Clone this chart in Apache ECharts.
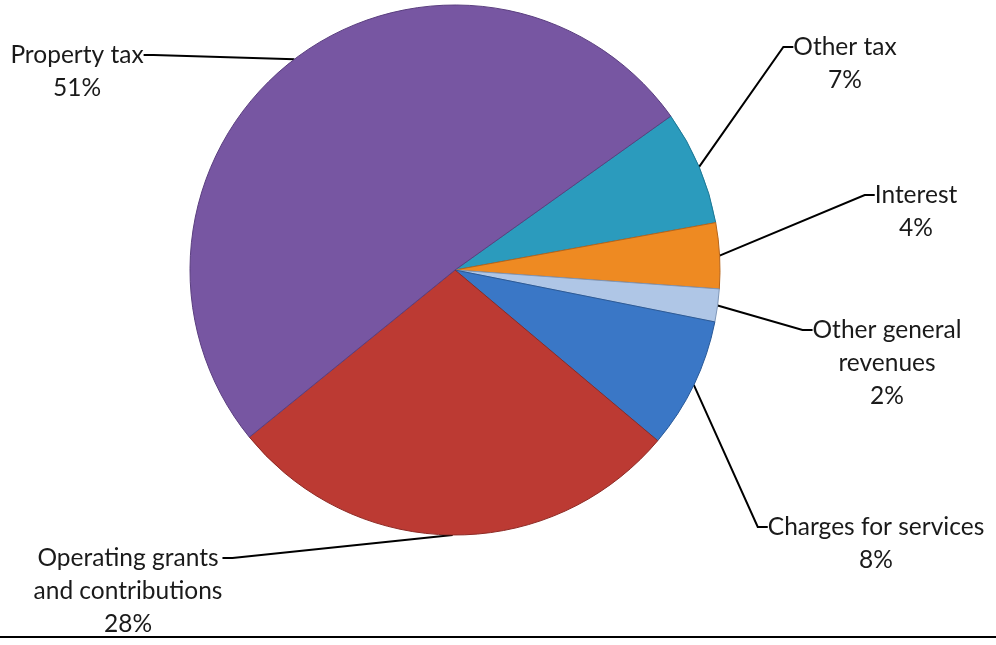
<!DOCTYPE html>
<html>
<head>
<meta charset="utf-8">
<script src="https://cdn.jsdelivr.net/npm/echarts@6/dist/echarts.min.js"></script>
<style>
html,body{margin:0;padding:0;background:#fff;}
#main{width:996px;height:645px;}
</style>
</head>
<body>
<div id="main"></div>
<script>
// ---- data ----
var categories = ['Other tax', 'Interest', 'Other general revenues', 'Charges for services', 'Operating grants and contributions', 'Property tax'];
var labelTexts = ['Other tax', 'Interest', 'Other general\nrevenues', 'Charges for services', 'Operating grants\nand contributions', 'Property tax'];
var values = [7, 4, 2, 8, 28, 51];

// ---- styles / layout ----
var colors = ['#2B9BBD', '#EE8A22', '#AFC6E6', '#3A77C6', '#BC3A33', '#7756A2'];
var borders = ['#1F7895', '#B8651A', '#7F97B8', '#2A5A99', '#8E2A25', '#5B3F80'];
var LH = 33;
// first-line centre of each label (x centre, y)
var labelPos = [[845, 47], [916, 195], [887, 330], [876, 527], [128, 558], [77, 55]];

var chart = echarts.init(document.getElementById('main'), null, {renderer: 'canvas'});

var data = categories.map(function (c, i) {
  return {
    name: c,
    value: values[i],
    itemStyle: {color: colors[i], borderColor: borders[i], borderWidth: 1}
  };
});

chart.setOption({
  backgroundColor: '#ffffff',
  animation: false,
  graphic: [{
    type: 'line',
    shape: {x1: 0, y1: 637, x2: 996, y2: 637},
    style: {stroke: '#000', lineWidth: 2}
  }],
  series: [{
    type: 'pie',
    center: [455, 270],
    radius: 265,
    startAngle: 35.5,
    clockwise: true,
    avoidLabelOverlap: false,
    emphasis: {disabled: true},
    data: data,
    label: {
      show: true,
      position: 'outside',
      fontFamily: 'Lato',
      fontSize: 24.5,
      lineHeight: LH,
      color: '#1a1a1a',
      align: 'center',
      formatter: function (p) {
        var txt = labelTexts[p.dataIndex] + '\n' + p.value + '%';
        var n = txt.split('\n').length;
        // blank leading lines keep the label box centred on its first line
        var pad = '';
        for (var k = 1; k < n; k++) pad += ' \n';
        return pad + txt;
      }
    },
    labelLine: {
      show: true,
      length: 20,
      length2: 10,
      minTurnAngle: 90,
      lineStyle: {color: '#000', width: 2}
    },
    labelLayout: function (p) {
      var pos = labelPos[p.dataIndex];
      return {x: pos[0], y: pos[1], align: 'center', verticalAlign: 'middle'};
    }
  }]
});
</script>
</body>
</html>
